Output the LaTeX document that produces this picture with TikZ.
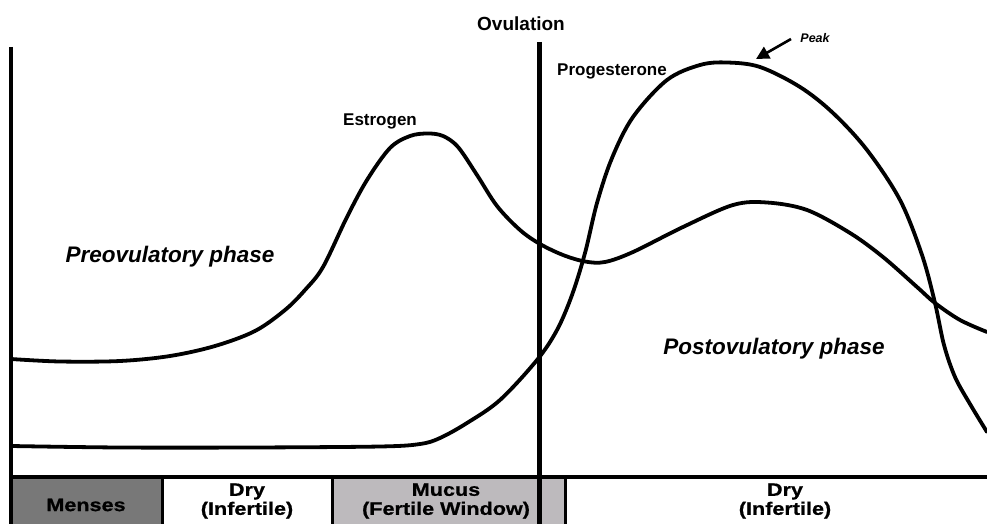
\documentclass[tikz,border=0pt]{standalone}
\usepackage{fontspec}
\setmainfont{Liberation Sans}
\newfontfamily\bandfont[FakeStretch=1.2,FakeBold=0.8]{Liberation Sans}
\usetikzlibrary{arrows.meta}
\definecolor{mensesgray}{HTML}{787878}
\definecolor{mucusgray}{HTML}{BDBABD}
\tikzset{
  curve/.style={line width=3.8pt, line cap=round, line join=round},
  axisline/.style={line width=4.2pt},
  sep/.style={line width=3pt},
  lbl/.style={font=\bfseries\fontsize{17}{19}\selectfont, inner sep=0pt},
  phase/.style={font=\bfseries\itshape\fontsize{22.5}{25}\selectfont, inner sep=0pt},
  band/.style={font=\bandfont\bfseries\fontsize{18}{19}\selectfont, inner sep=0pt, align=center},
}
\begin{document}
\begin{tikzpicture}[x=1pt,y=-1pt]
\useasboundingbox[fill=white] (0,0) rectangle (987,524);
% bottom band
\fill[mensesgray] (11,477) rectangle (162,530);
\fill[mucusgray] (332,477) rectangle (565,530);
\draw[sep] (162,477) -- (162,524);
\draw[sep] (332,477) -- (332,524);
\draw[sep] (565,477) -- (565,524);
% curves
\draw[curve] plot[smooth, tension=0.55] coordinates {
 (11,359) (60,361.5) (120,361) (170,356) (215,346) (255,331) (285,310) (305,290)
 (323,267) (347,217) (367,180) (390,148) (410,136) (428,133.5) (443,136)
 (458,147) (477,175) (497,206) (520,230) (540,244) (563,255) (585,261.5)
 (605,262) (633,252) (683,227) (733,205) (767,202.5) (807,210) (850,233)
 (883,257) (917,287) (935,303) (960,320) (987,332)};
\draw[curve] plot[smooth, tension=0.55] coordinates {
 (11,446) (120,447.5) (250,447.5) (380,446.5) (420,444) (440,438) (467,423) (500,400)
 (537,360) (557,330) (572,295) (585,253) (597,203) (612,158) (633,117)
 (667,80) (700,65) (727,62.5) (760,67) (800,87) (833,113) (867,150)
 (900,200) (922,255) (935,303) (944,345) (955,377) (970,404) (987,432)};
% axes
\draw[axisline] (11,47) -- (11,524);
\draw[axisline] (9,477) -- (987,477);
\draw[line width=5pt] (539,42) -- (539,524);
% labels
\node[lbl, font=\bfseries\fontsize{19}{21}\selectfont] (ovu) at (521,24) {Ovulation};
\node[lbl] (estr) at (380,121) {Estrogen};
\node[lbl] (prog) at (612,71) {Progesterone};
\node[inner sep=0pt, font=\bfseries\itshape\fontsize{12.5}{14}\selectfont] (peak) at (815,38) {Peak};
\coordinate (arrs) at (791,39);
\coordinate (arrt) at (756,59);
\draw[line width=2.6pt, -{Triangle[length=13pt,width=13pt]}] (arrs) -- (arrt);
\node[phase] (pre) at (170,257) {Preovulatory phase};
\node[phase] (post) at (774,349) {Postovulatory phase};
% band texts
\node[band] (menses) at (86,505) {Menses};
\node[band] (dry1) at (247,501) {Dry\\(Infertile)};
\node[band] (mucus) at (446,501) {Mucus\\(Fertile Window)};
\node[band] (dry2) at (785,501) {Dry\\(Infertile)};
\end{tikzpicture}
\end{document}
